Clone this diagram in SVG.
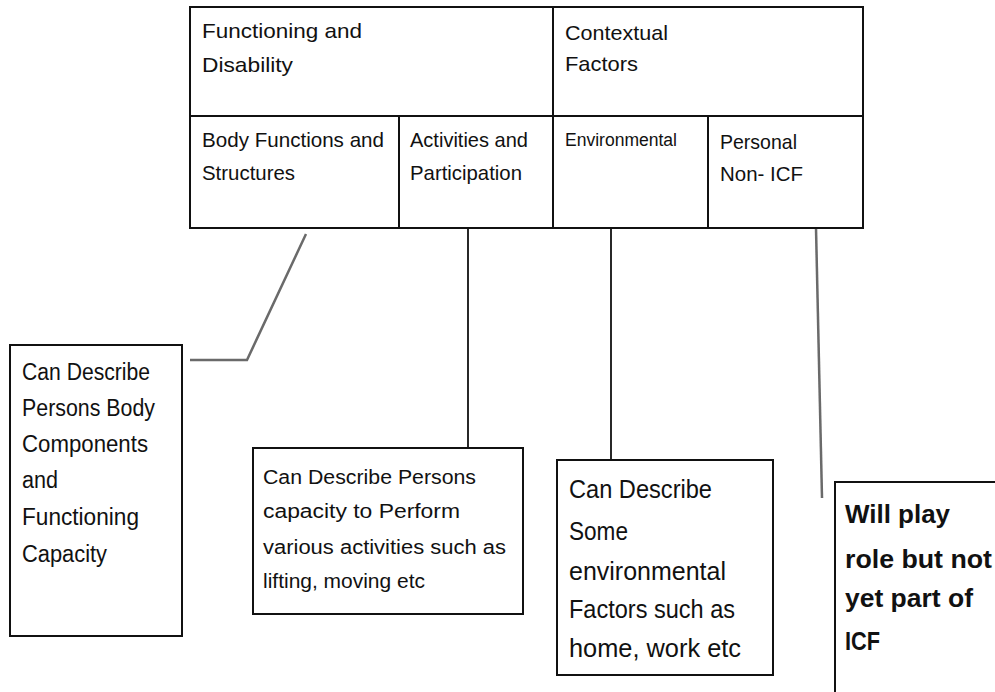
<svg xmlns="http://www.w3.org/2000/svg" width="995" height="692" viewBox="0 0 995 692">
<style>
.box{fill:#fff;stroke:#111;stroke-width:2}
.t{font-family:"Liberation Sans",Arial,sans-serif;fill:#111}
.t1{font-size:21px}
.tb1{font-size:23px}
.tb2{font-size:20px}
.tb3{font-size:26px}
.tb4{font-size:25px;font-weight:bold}
.cg{fill:none;stroke:#6a6a6a;stroke-width:2.5}
.ck{fill:none;stroke:#111;stroke-width:1.8}
</style>
<rect width="995" height="692" fill="#fff"/>
<g id="connectors">
<polyline class="cg" points="306,234 247,360 190,360"/>
<line class="ck" x1="468" y1="228" x2="468" y2="463"/>
<line class="ck" x1="611" y1="228" x2="611" y2="475"/>
<line class="cg" x1="816" y1="228" x2="822" y2="498"/>
</g>
<g id="table">
<rect class="box" x="190" y="7" width="673" height="221"/>
<line class="box" x1="190" y1="116" x2="863" y2="116"/>
<line class="box" x1="553" y1="7" x2="553" y2="228"/>
<line class="box" x1="399" y1="116" x2="399" y2="228"/>
<line class="box" x1="708" y1="116" x2="708" y2="228"/>
</g>
<g id="functioning">
<text class="t t1" x="202" y="38" textLength="160" lengthAdjust="spacingAndGlyphs">Functioning and</text>
<text class="t t1" x="202" y="72" textLength="91" lengthAdjust="spacingAndGlyphs">Disability</text>
</g>
<g id="contextual">
<text class="t t1" x="565" y="40" textLength="103" lengthAdjust="spacingAndGlyphs">Contextual</text>
<text class="t t1" x="565" y="71" textLength="73" lengthAdjust="spacingAndGlyphs">Factors</text>
</g>
<g id="body">
<text class="t t1" x="202" y="147" textLength="182" lengthAdjust="spacingAndGlyphs">Body Functions and</text>
<text class="t t1" x="202" y="180" textLength="93" lengthAdjust="spacingAndGlyphs">Structures</text>
</g>
<g id="activities">
<text class="t t1" x="410" y="147" textLength="118" lengthAdjust="spacingAndGlyphs">Activities and</text>
<text class="t t1" x="410" y="180" textLength="112" lengthAdjust="spacingAndGlyphs">Participation</text>
</g>
<g id="environmental">
<text class="t" font-size="18" x="565" y="146" textLength="112" lengthAdjust="spacingAndGlyphs">Environmental</text>
</g>
<g id="personal">
<text class="t t1" x="720" y="149" textLength="77" lengthAdjust="spacingAndGlyphs">Personal</text>
<text class="t t1" x="720" y="181" textLength="83" lengthAdjust="spacingAndGlyphs">Non- ICF</text>
</g>
<g id="box-body">
<rect class="box" x="10" y="345" width="172" height="291"/>
<text class="t tb1" x="22" y="380" textLength="128" lengthAdjust="spacingAndGlyphs">Can Describe</text>
<text class="t tb1" x="22" y="416" textLength="133" lengthAdjust="spacingAndGlyphs">Persons Body</text>
<text class="t tb1" x="22" y="452" textLength="126" lengthAdjust="spacingAndGlyphs">Components</text>
<text class="t tb1" x="22" y="488" textLength="36" lengthAdjust="spacingAndGlyphs">and</text>
<text class="t tb1" x="22" y="525" textLength="117" lengthAdjust="spacingAndGlyphs">Functioning</text>
<text class="t tb1" x="22" y="562" textLength="85" lengthAdjust="spacingAndGlyphs">Capacity</text>
</g>
<g id="box-activities">
<rect class="box" x="253" y="448" width="270" height="166"/>
<text class="t tb2" x="263" y="484" textLength="213" lengthAdjust="spacingAndGlyphs">Can Describe Persons</text>
<text class="t tb2" x="263" y="518" textLength="197" lengthAdjust="spacingAndGlyphs">capacity to Perform</text>
<text class="t tb2" x="263" y="554" textLength="243" lengthAdjust="spacingAndGlyphs">various activities such as</text>
<text class="t tb2" x="263" y="588" textLength="162" lengthAdjust="spacingAndGlyphs">lifting, moving etc</text>
</g>
<g id="box-environmental">
<rect class="box" x="557" y="460" width="216" height="215"/>
<text class="t tb3" x="569" y="498" textLength="143" lengthAdjust="spacingAndGlyphs">Can Describe</text>
<text class="t tb3" x="569" y="540" textLength="59" lengthAdjust="spacingAndGlyphs">Some</text>
<text class="t tb3" x="569" y="580" textLength="157" lengthAdjust="spacingAndGlyphs">environmental</text>
<text class="t tb3" x="569" y="618" textLength="166" lengthAdjust="spacingAndGlyphs">Factors such as</text>
<text class="t tb3" x="569" y="657" textLength="172" lengthAdjust="spacingAndGlyphs">home, work etc</text>
</g>
<g id="box-personal">
<rect class="box" x="835" y="482" width="170" height="230"/>
<text class="t tb4" x="845" y="523" textLength="105" lengthAdjust="spacingAndGlyphs">Will play</text>
<text class="t tb4" x="845" y="568" textLength="147" lengthAdjust="spacingAndGlyphs">role but not</text>
<text class="t tb4" x="845" y="607" textLength="128" lengthAdjust="spacingAndGlyphs">yet part of</text>
<text class="t tb4" x="845" y="650" textLength="35" lengthAdjust="spacingAndGlyphs">ICF</text>
</g>
</svg>
